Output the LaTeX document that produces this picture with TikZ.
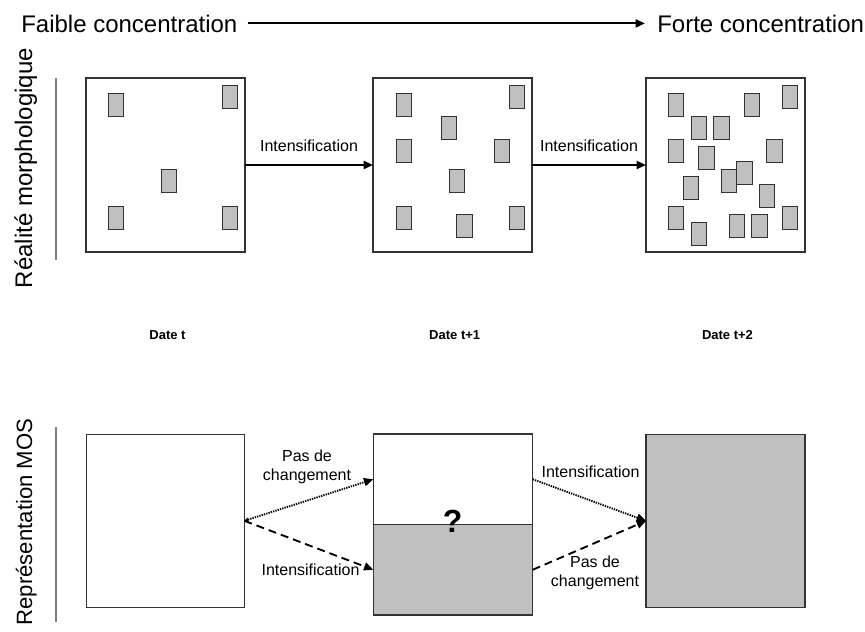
\documentclass[tikz,border=0pt]{standalone}
\usepackage{fontspec}
\setmainfont{Liberation Sans}
\usetikzlibrary{arrows.meta,calc}
\definecolor{boxgray}{HTML}{C0C0C0}
\definecolor{edge}{HTML}{333333}
\definecolor{sepgray}{HTML}{808080}
\begin{document}
\begin{tikzpicture}[x=0.75pt,y=-0.75pt,
  bigbox/.style={draw=edge,line width=0.8pt,inner sep=0pt,outer sep=0pt},
  chip/.style={draw=edge,fill=boxgray,line width=0.7pt},
  conn/.style={line width=1.5pt,-{Triangle[length=7pt,width=6pt]}},
  dotconn/.style={line width=1.4pt,dash pattern=on 1pt off 0.8pt,{Triangle[length=3pt,width=3pt]}-{Triangle[length=7pt,width=6pt]}},
  dotconnr/.style={line width=1.4pt,dash pattern=on 1pt off 0.8pt,-{Triangle[length=7pt,width=6pt]}},
  dashconn/.style={line width=1.4pt,dash pattern=on 6pt off 3.75pt,-{Triangle[length=7pt,width=6pt]}},
  hdr/.style={font=\fontsize{18}{22}\selectfont,inner sep=0pt},
  side/.style={inner sep=0pt,rotate=90,anchor=base},
  lbl/.style={font=\fontsize{12}{14.5}\selectfont,inner sep=0pt,align=center},
  datelbl/.style={font=\bfseries\fontsize{9.75}{12}\selectfont,inner sep=0pt}
]
\useasboundingbox (0,0) rectangle (865,632);

% header
\node[hdr,anchor=base west] (lo) at (21,32) {Faible concentration};
\node[hdr,anchor=base west] (hi) at (657,32) {Forte concentration};
\draw[conn] ([xshift=7.5pt]lo.east) -- ([xshift=-9pt]hi.west);

% side labels
\node[side,font=\fontsize{18}{22}\selectfont] (real) at (32,168) {Réalité morphologique};
\node[side,font=\fontsize{16.6}{20}\selectfont] (repr) at (32,522) {Représentation MOS};
\draw[sepgray,line width=0.8pt] (56,78) -- (56,260);
\draw[sepgray,line width=0.8pt] (56,427) -- (56,622);

% top boxes
\node[bigbox,minimum width=119.25pt,minimum height=130.5pt] (t1) at (165.5,165) {};
\node[bigbox,minimum width=119.25pt,minimum height=130.5pt] (t2) at (452.5,165) {};
\node[bigbox,minimum width=119.25pt,minimum height=130.5pt] (t3) at (725.5,165) {};

\foreach \x/\y in {108.3/93.3,222.3/85.7,161.3/169.3,108.3/206.7,222.3/206.7,
  396.3/93.3,509.3/85.7,441.3/116.3,396.3/139,494.3/139,449/169.3,396.3/206.7,456.7/214.3,509.3/206.7,
  668.3/93.3,744/93.3,782/85.7,691/116.3,713.7/116.3,668.3/139,698.7/146.3,766.7/139,683.3/176.7,
  736.7/161.7,721.3/169.3,759.3/184.3,668.3/206.7,691/222.3,729/214.3,751.7/214.3,782/206.7}
  \draw[chip] (\x,\y) rectangle ++(15.4,23);

\draw[conn] (t1.east) -- (t2.west) node[lbl,midway,above=9pt] (i1) {Intensification};
\draw[conn] (t2.east) -- (t3.west) node[lbl,midway,above=9pt] (i2) {Intensification};

% dates
\node[datelbl] (d1) at (167.5,335) {Date t};
\node[datelbl] (d2) at (454.7,335) {Date t+1};
\node[datelbl] (d3) at (727.5,335) {Date t+2};

% bottom boxes
\node[bigbox,minimum width=118.7pt,minimum height=130.1pt] (bL) at (165.2,520.8) {};
\node[bigbox,minimum width=119.55pt,minimum height=135.75pt,
  path picture={\fill[boxgray] (path picture bounding box.west) rectangle (path picture bounding box.south east);
    \draw[edge,line width=0.8pt] (path picture bounding box.west) -- (path picture bounding box.east);}] (bM) at (453,524.5) {};
\node[bigbox,fill=boxgray,minimum width=119.25pt,minimum height=130.3pt] (bR) at (725.5,520.9) {};
\node[font=\bfseries\fontsize{24}{24}\selectfont,inner sep=0pt] (q) at (452.7,521.7) {?};

\coordinate (mUp) at ($(bM.north west)!0.25!(bM.south west)$);
\coordinate (mDn) at ($(bM.north west)!0.75!(bM.south west)$);
\coordinate (mUpR) at ($(bM.north east)!0.25!(bM.south east)$);
\coordinate (mDnR) at ($(bM.north east)!0.75!(bM.south east)$);

\draw[dotconn] (bL.east) -- (mUp);
\draw[dashconn] (bL.east) -- (mDn);
\draw[dotconnr] (mUpR) -- (bR.west);
\draw[dashconn] (mDnR) -- (bR.west);

\node[lbl] (p1) at (307,467) {Pas de\\changement};
\node[lbl] (i3) at (310.5,570) {Intensification};
\node[lbl] (i4) at (590.5,471.7) {Intensification};
\node[lbl] (p2) at (595,573) {Pas de\\changement};
\end{tikzpicture}
\end{document}
